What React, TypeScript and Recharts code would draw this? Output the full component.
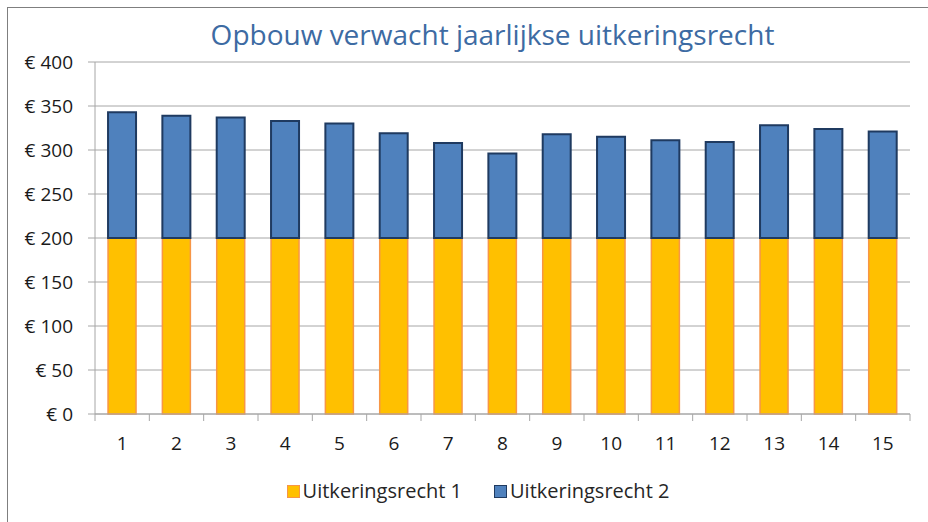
import React from 'react';
import { BarChart, Bar, XAxis, YAxis, CartesianGrid, Legend } from 'recharts';

const categories = ['1', '2', '3', '4', '5', '6', '7', '8', '9', '10', '11', '12', '13', '14', '15'];
const uitkeringsrecht1 = [200, 200, 200, 200, 200, 200, 200, 200, 200, 200, 200, 200, 200, 200, 200];
const uitkeringsrecht2 = [143, 139, 137, 133, 130, 119, 108, 96, 118, 115, 111, 109, 128, 124, 121];
const yTicks = [0, 50, 100, 150, 200, 250, 300, 350, 400];

const data = categories.map((name, i) => ({
  name,
  r1: uitkeringsrecht1[i],
  r2: uitkeringsrecht2[i],
}));

const FONT = '"Open Sans", "Noto Sans", sans-serif';
const PLOT_LEFT = 95;
const PLOT_RIGHT = 910;
const BAND = (PLOT_RIGHT - PLOT_LEFT) / categories.length;
const GRID = '#a6a6a6';

const XTick = (props: any) => {
  const { x, y, payload, index } = props;
  const top = y - 8;
  return (
    <g>
      <line x1={x - BAND / 2} y1={top} x2={x - BAND / 2} y2={top + 7} stroke={GRID} />
      {index === categories.length - 1 && (
        <line x1={x + BAND / 2} y1={top} x2={x + BAND / 2} y2={top + 7} stroke={GRID} />
      )}
      <text x={x} y={top + 36} textAnchor="middle" fill="#1a1a1a" fontSize={19} fontFamily={FONT}>
        {payload.value}
      </text>
    </g>
  );
};

const LegendContent = () => {
  const items = [
    { label: 'Uitkeringsrecht 1', fill: '#ffc000', stroke: '#f79646' },
    { label: 'Uitkeringsrecht 2', fill: '#4f81bd', stroke: '#1f3a60' },
  ];
  return (
    <div style={{ display: 'flex', justifyContent: 'center', gap: 32, fontFamily: FONT, fontSize: 20, color: '#262626', lineHeight: '24px' }}>
      {items.map((it) => (
        <div key={it.label} style={{ display: 'flex', alignItems: 'center' }}>
          <span
            style={{
              display: 'inline-block',
              width: 11,
              height: 11,
              background: it.fill,
              border: `1.5px solid ${it.stroke}`,
              marginRight: 3,
            }}
          />
          {it.label}
        </div>
      ))}
    </div>
  );
};

export default function App() {
  return (
    <div style={{ position: 'absolute', left: 0, top: 0, width: 928, height: 522, background: '#fff', overflow: 'hidden' }}>
      <div
        style={{
          position: 'absolute',
          left: 7,
          top: 7,
          width: 940,
          height: 540,
          borderLeft: '1px solid #7f7f7f',
          borderTop: '1px solid #7f7f7f',
        }}
      />
      <div
        style={{
          position: 'absolute',
          left: 0,
          top: 15,
          width: 985,
          textAlign: 'center',
          fontFamily: FONT,
          fontSize: 28,
          color: '#3d6ba3',
        }}
      >
        Opbouw verwacht jaarlijkse uitkeringsrecht
      </div>
      <div style={{ position: 'absolute', left: 0, top: 0 }}>
        <BarChart
          width={928}
          height={522}
          data={data}
          margin={{ top: 62, right: 928 - PLOT_RIGHT, bottom: 0, left: 0 }}
          barCategoryGap="24%"
        >
          <CartesianGrid vertical={false} stroke={GRID} strokeWidth={1} />
          <XAxis
            dataKey="name"
            height={84}
            stroke={GRID}
            tickLine={false}
            tick={<XTick />}
            interval={0}
          />
          <YAxis
            width={PLOT_LEFT}
            domain={[0, 400]}
            ticks={yTicks}
            stroke={GRID}
            tickSize={7}
            tickMargin={15}
            tickFormatter={(v: number) => `€ ${v}`}
            tick={{ fill: '#1a1a1a', fontSize: 19, fontFamily: FONT }}
          />
          <Legend content={<LegendContent />} wrapperStyle={{ top: 479, left: 14, width: 928 }} />
          <Bar dataKey="r1" name="Uitkeringsrecht 1" stackId="a" fill="#ffc000" stroke="#f79646" strokeWidth={1.5} isAnimationActive={false} />
          <Bar dataKey="r2" name="Uitkeringsrecht 2" stackId="a" fill="#4f81bd" stroke="#1f3a60" strokeWidth={2} isAnimationActive={false} />
        </BarChart>
      </div>
    </div>
  );
}
